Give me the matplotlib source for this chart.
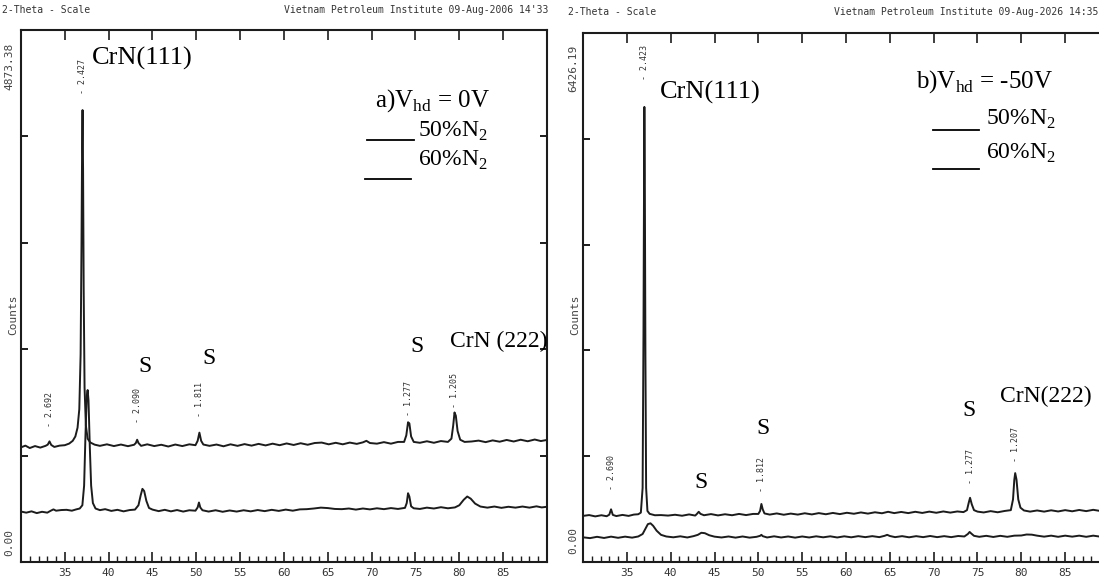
import matplotlib
matplotlib.use("Agg")
import matplotlib.pyplot as plt
import matplotlib.transforms as mtransforms
from matplotlib.lines import Line2D
import numpy as np

# ---- data (2-theta in deg, counts) ----
a_top_x = [30.0, 30.5, 31.0, 31.6, 32.2, 32.8, 33.05, 33.25, 33.45, 33.8, 34.4, 35.0, 35.5, 35.9,
           36.2, 36.45, 36.65, 36.8, 36.9, 36.97, 37.02, 37.08, 37.15, 37.25, 37.4, 37.6, 37.9,
           38.4, 39.0, 39.8, 40.6, 41.4, 42.2, 42.9, 43.1, 43.25, 43.4, 43.7, 44.4, 45.2, 46.0,
           46.8, 47.6, 48.4, 49.2, 49.9, 50.15, 50.35, 50.55, 50.8, 51.5, 52.3, 53.1, 53.9, 54.7,
           55.5, 56.3, 57.1, 57.9, 58.7, 59.5, 60.3, 61.1, 61.9, 62.7, 63.5, 64.3, 65.1, 65.9,
           66.7, 67.5, 68.3, 69.0, 69.4, 69.8, 70.6, 71.4, 72.2, 73.0, 73.7, 73.95, 74.15, 74.3,
           74.5, 74.8, 75.5, 76.3, 77.1, 77.9, 78.7, 79.1, 79.3, 79.45, 79.6, 79.8, 80.1, 80.6,
           81.4, 82.2, 83.0, 83.8, 84.6, 85.4, 86.2, 87.0, 87.8, 88.6, 89.3, 90.0]
a_top_y = [1050, 1066, 1044, 1062, 1048, 1064, 1075, 1105, 1072, 1054, 1066, 1070, 1085, 1110,
           1150, 1230, 1400, 1900, 2900, 3800, 4140, 3600, 2500, 1600, 1250, 1130, 1095,
           1075, 1064, 1078, 1062, 1076, 1061, 1074, 1090, 1120, 1090, 1064, 1078, 1062, 1074,
           1058, 1076, 1062, 1078, 1070, 1110, 1185, 1110, 1076, 1064, 1076, 1060, 1078, 1064,
           1080, 1066, 1082, 1068, 1084, 1070, 1086, 1072, 1088, 1074, 1090, 1094, 1078, 1092,
           1078, 1094, 1082, 1096, 1110, 1090, 1084, 1098, 1084, 1100, 1100, 1160, 1280, 1270,
           1150, 1100, 1092, 1106, 1092, 1108, 1100, 1130, 1250, 1370, 1340, 1200, 1120, 1100,
           1104, 1112, 1098, 1114, 1102, 1118, 1104, 1120, 1106, 1122, 1108, 1118]

a_bot_x = [30.0, 30.6, 31.2, 31.8, 32.4, 33.0, 33.4, 33.7, 34.0, 34.6, 35.2, 35.8, 36.3, 36.7,
           37.0, 37.2, 37.35, 37.5, 37.6, 37.7, 37.85, 38.0, 38.2, 38.5, 39.0, 39.6, 40.3, 41.0,
           41.7, 42.4, 43.0, 43.4, 43.65, 43.85, 44.05, 44.3, 44.6, 45.0, 45.7, 46.4, 47.1, 47.8,
           48.5, 49.2, 49.9, 50.15, 50.3, 50.45, 50.7, 51.4, 52.2, 53.0, 53.8, 54.6, 55.4, 56.2,
           57.0, 57.8, 58.6, 59.4, 60.2, 61.0, 61.8, 62.6, 63.4, 64.2, 65.0, 65.8, 66.6, 67.4,
           68.2, 69.0, 69.8, 70.6, 71.4, 72.2, 73.0, 73.8, 74.0, 74.15, 74.3, 74.5, 74.8, 75.5,
           76.3, 77.1, 77.9, 78.7, 79.5, 80.0, 80.5, 80.9, 81.3, 81.8, 82.4, 83.2, 84.0, 84.8,
           85.6, 86.4, 87.2, 88.0, 88.8, 89.4, 90.0]
a_bot_y = [462, 452, 464, 448, 460, 452, 470, 482, 470, 476, 478, 470, 482, 490,
           520, 700, 1150, 1520, 1575, 1480, 1050, 700, 540, 490, 475, 484, 468, 478,
           464, 476, 480, 520, 610, 670, 650, 560, 495, 480, 466, 478, 464, 476,
           462, 474, 470, 500, 545, 500, 474, 462, 474, 460, 472, 462, 474, 464,
           476, 466, 478, 468, 480, 470, 482, 484, 490, 498, 494, 486, 484, 490,
           480, 490, 482, 492, 484, 494, 486, 496, 540, 630, 600, 510, 492, 486,
           498, 490, 502, 492, 500, 520, 570, 600, 580, 535, 508, 498, 508, 496,
           506, 498, 508, 498, 510, 500, 506]

b_top_x = [30.0, 30.7, 31.4, 32.1, 32.7, 33.0, 33.2, 33.4, 33.8, 34.5, 35.2, 35.8, 36.3, 36.6,
           36.8, 36.9, 36.97, 37.0, 37.05, 37.12, 37.2, 37.35, 37.6, 38.2, 38.9, 39.7, 40.5,
           41.3, 42.1, 42.8, 43.0, 43.2, 43.4, 43.8, 44.6, 45.4, 46.2, 47.0, 47.8, 48.6, 49.4,
           50.0, 50.2, 50.35, 50.5, 50.7, 51.3, 52.1, 52.9, 53.7, 54.5, 55.3, 56.1, 56.9, 57.7,
           58.5, 59.3, 60.1, 60.9, 61.7, 62.5, 63.3, 64.1, 64.8, 65.5, 66.3, 67.1, 67.9, 68.7,
           69.5, 70.3, 71.1, 71.9, 72.7, 73.4, 73.8, 74.0, 74.15, 74.35, 74.6, 75.0, 75.7, 76.5,
           77.3, 78.1, 78.8, 79.05, 79.2, 79.3, 79.45, 79.65, 79.9, 80.3, 81.0, 81.8, 82.6, 83.4,
           84.2, 85.0, 85.8, 86.6, 87.4, 88.2, 89.0, 90.0]
b_top_y = [560, 570, 554, 568, 556, 575, 640, 572, 558, 572, 560, 576, 580, 600,
           900, 2800, 4800, 5528, 4700, 2500, 900, 620, 585, 568, 570, 564, 574, 562,
           578, 564, 585, 610, 585, 568, 582, 566, 580, 568, 584, 570, 584,
           584, 620, 705, 640, 590, 576, 590, 574, 588, 576, 592, 578, 594, 580,
           596, 582, 598, 586, 602, 588, 604, 592, 610, 594, 608, 594, 610, 596,
           612, 598, 614, 600, 614, 606, 630, 720, 780, 700, 630, 612, 602, 618,
           604, 620, 630, 760, 1000, 1080, 1000, 760, 660, 626, 612, 626, 612, 628,
           614, 630, 616, 632, 618, 634, 620, 630]

b_bot_x = [30.0, 30.8, 31.6, 32.4, 33.2, 34.0, 34.8, 35.6, 36.3, 36.8, 37.1, 37.4, 37.7, 38.0,
           38.4, 38.9, 39.5, 40.3, 41.1, 41.9, 42.6, 43.1, 43.5, 43.9, 44.4, 45.0, 45.8, 46.6,
           47.4, 48.2, 49.0, 49.8, 50.2, 50.35, 50.5, 51.0, 51.8, 52.6, 53.4, 54.2, 55.0, 55.8,
           56.6, 57.4, 58.2, 59.0, 59.8, 60.6, 61.4, 62.2, 63.0, 63.8, 64.4, 64.7, 65.0, 65.6,
           66.4, 67.2, 68.0, 68.8, 69.6, 70.4, 71.2, 72.0, 72.8, 73.5, 73.9, 74.1, 74.3, 74.6,
           75.2, 76.0, 76.8, 77.6, 78.4, 79.2, 80.0, 80.6, 81.2, 81.8, 82.6, 83.4, 84.2, 85.0,
           85.8, 86.6, 87.4, 88.2, 89.0, 90.0]
b_bot_y = [300, 290, 306, 292, 308, 294, 308, 296, 310, 340, 400, 460, 470, 440,
           380, 330, 310, 300, 312, 298, 314, 330, 355, 350, 325, 308, 298, 310,
           296, 310, 296, 306, 318, 330, 314, 298, 312, 298, 310, 296, 310, 298,
           312, 300, 312, 298, 312, 300, 314, 302, 314, 302, 318, 330, 316, 302,
           314, 300, 314, 302, 316, 302, 314, 302, 316, 310, 340, 365, 345, 318,
           306, 318, 304, 318, 306, 320, 322, 334, 332, 320, 308, 320, 306, 320,
           308, 320, 306, 320, 308, 316]

a_ymax = 4873.38
b_ymax = 6426.19

# peak markers printed by the diffractometer software (2-theta, d-spacing)
a_peak_pos = [33.25, 37.0, 43.25, 50.35, 74.2, 79.5]
a_peak_d = ["2.692", "2.427", "2.090", "1.811", "1.277", "1.205"]
b_peak_pos = [33.2, 37.0, 50.35, 74.15, 79.3]
b_peak_d = ["2.690", "2.423", "1.812", "1.277", "1.207"]

xtick_labels = ["35", "40", "45", "50", "55", "60", "65", "70", "75", "80", "85"]

# ---- layout ----
W, H = 1099, 585
ink = "#1c1c1c"
mono = "DejaVu Sans Mono"

plt.rcParams["font.family"] = ["Liberation Serif", "DejaVu Serif"]
plt.rcParams["mathtext.fontset"] = "custom"
plt.rcParams["mathtext.rm"] = "Liberation Serif"

fig = plt.figure(figsize=(W / 100, H / 100), dpi=100)
fig.patch.set_facecolor("white")


def fx(px):
    return px / W


def fy(py):
    return 1 - py / H


def make_axes(left_px, top_px, ymax):
    ax = fig.add_axes([fx(left_px), fy(562), fx(526), (562 - top_px) / H])
    ax.set_xlim(30, 90)
    ax.set_ylim(0, ymax)
    for s in ax.spines.values():
        s.set_linewidth(1.5)
        s.set_color(ink)
    ax.set_xticks(np.arange(35, 90, 5))
    ax.set_xticklabels(xtick_labels, fontfamily=mono, fontsize=8, color="#333333")
    ax.set_xticks(np.arange(31, 90, 1), minor=True)
    ax.set_yticks(np.linspace(0, ymax, 6))
    ax.set_yticklabels([])
    ax.tick_params(axis="x", which="major", direction="in", length=7, width=1.2,
                   top=True, color=ink, pad=4)
    ax.tick_params(axis="x", which="minor", direction="in", length=4, width=1,
                   top=False, color=ink)
    ax.tick_params(axis="y", which="major", direction="in", length=5, width=1.4,
                   right=True, color=ink)
    return ax


ax_a = make_axes(21, 30, a_ymax)
ax_b = make_axes(583, 33, b_ymax)

for ax, xs, ys in [(ax_a, a_top_x, a_top_y), (ax_a, a_bot_x, a_bot_y),
                   (ax_b, b_top_x, b_top_y), (ax_b, b_bot_x, b_bot_y)]:
    ax.plot(xs, ys, color=ink, lw=1.4, solid_joinstyle="round")

# d-spacing markers (vertical text above each peak)
a_label_frac = [0.286, 0.912, 0.295, 0.305, 0.308, 0.323]
b_label_frac = [0.170, 0.945, 0.166, 0.181, 0.223]
for ax, pos, lab, frac in [(ax_a, a_peak_pos, a_peak_d, a_label_frac),
                           (ax_b, b_peak_pos, b_peak_d, b_label_frac)]:
    tr = mtransforms.blended_transform_factory(ax.transData, ax.transAxes)
    for p, d, f in zip(pos, lab, frac):
        ax.text(p, f, "- " + d, transform=tr, rotation=90, ha="center", va="center",
                fontfamily=mono, fontsize=6, color="#333333")

# printer header lines
hdr = dict(fontfamily=mono, fontsize=7, color="#333333", va="center")
fig.text(fx(2), fy(10), "2-Theta - Scale", ha="left", **hdr)
fig.text(fx(548), fy(10), "Vietnam Petroleum Institute 09-Aug-2006 14'33", ha="right", **hdr)
fig.text(fx(568), fy(12), "2-Theta - Scale", ha="left", **hdr)
fig.text(fx(1098), fy(12), "Vietnam Petroleum Institute 09-Aug-2026 14:35", ha="right", **hdr)

ylab = dict(fontfamily=mono, fontsize=8, color="#444444", rotation=90, ha="center", va="center")
fig.text(fx(9), fy(66), "4873.38", **ylab)
fig.text(fx(9), fy(543), "0.00", **ylab)
fig.text(fx(13), fy(315), "Counts", **ylab)
fig.text(fx(573), fy(68), "6426.19", **ylab)
fig.text(fx(573), fy(540), "0.00", **ylab)
fig.text(fx(575), fy(315), "Counts", **ylab)

# annotations
big = dict(fontsize=19, color="black", va="center", ha="left")
mid = dict(fontsize=17, color="black", va="center", ha="left")
fig.text(fx(92), fy(58), "CrN(111)", **big)
fig.text(fx(375), fy(101), r"a)V$_\mathregular{hd}$ = 0V", fontsize=18, va="center", ha="left")
fig.text(fx(418), fy(131), r"50%N$_\mathregular{2}$", **mid)
fig.text(fx(418), fy(160), r"60%N$_\mathregular{2}$", **mid)
fig.text(fx(145), fy(366), "S", ha="center", va="center", fontsize=17)
fig.text(fx(209), fy(358), "S", ha="center", va="center", fontsize=17)
fig.text(fx(417), fy(347), "S", ha="center", va="center", fontsize=17)
fig.text(fx(450), fy(341), "CrN (222)", **mid)

fig.text(fx(660), fy(92), "CrN(111)", **big)
fig.text(fx(916), fy(82), r"b)V$_\mathregular{hd}$ = -50V", fontsize=18, va="center", ha="left")
fig.text(fx(986), fy(119), r"50%N$_\mathregular{2}$", **mid)
fig.text(fx(986), fy(153), r"60%N$_\mathregular{2}$", **mid)
fig.text(fx(701), fy(483), "S", ha="center", va="center", fontsize=17)
fig.text(fx(763), fy(428), "S", ha="center", va="center", fontsize=17)
fig.text(fx(969), fy(411), "S", ha="center", va="center", fontsize=17)
fig.text(fx(1000), fy(396), "CrN(222)", **mid)

# hand-drawn legend strokes
for x0, x1, y in [(367, 414, 140), (365, 411, 179), (933, 979, 130), (933, 979, 169)]:
    fig.add_artist(Line2D([fx(x0), fx(x1)], [fy(y), fy(y)], color="black", lw=1.3,
                          transform=fig.transFigure))

fig.savefig("out.png", dpi=100, facecolor="white")
